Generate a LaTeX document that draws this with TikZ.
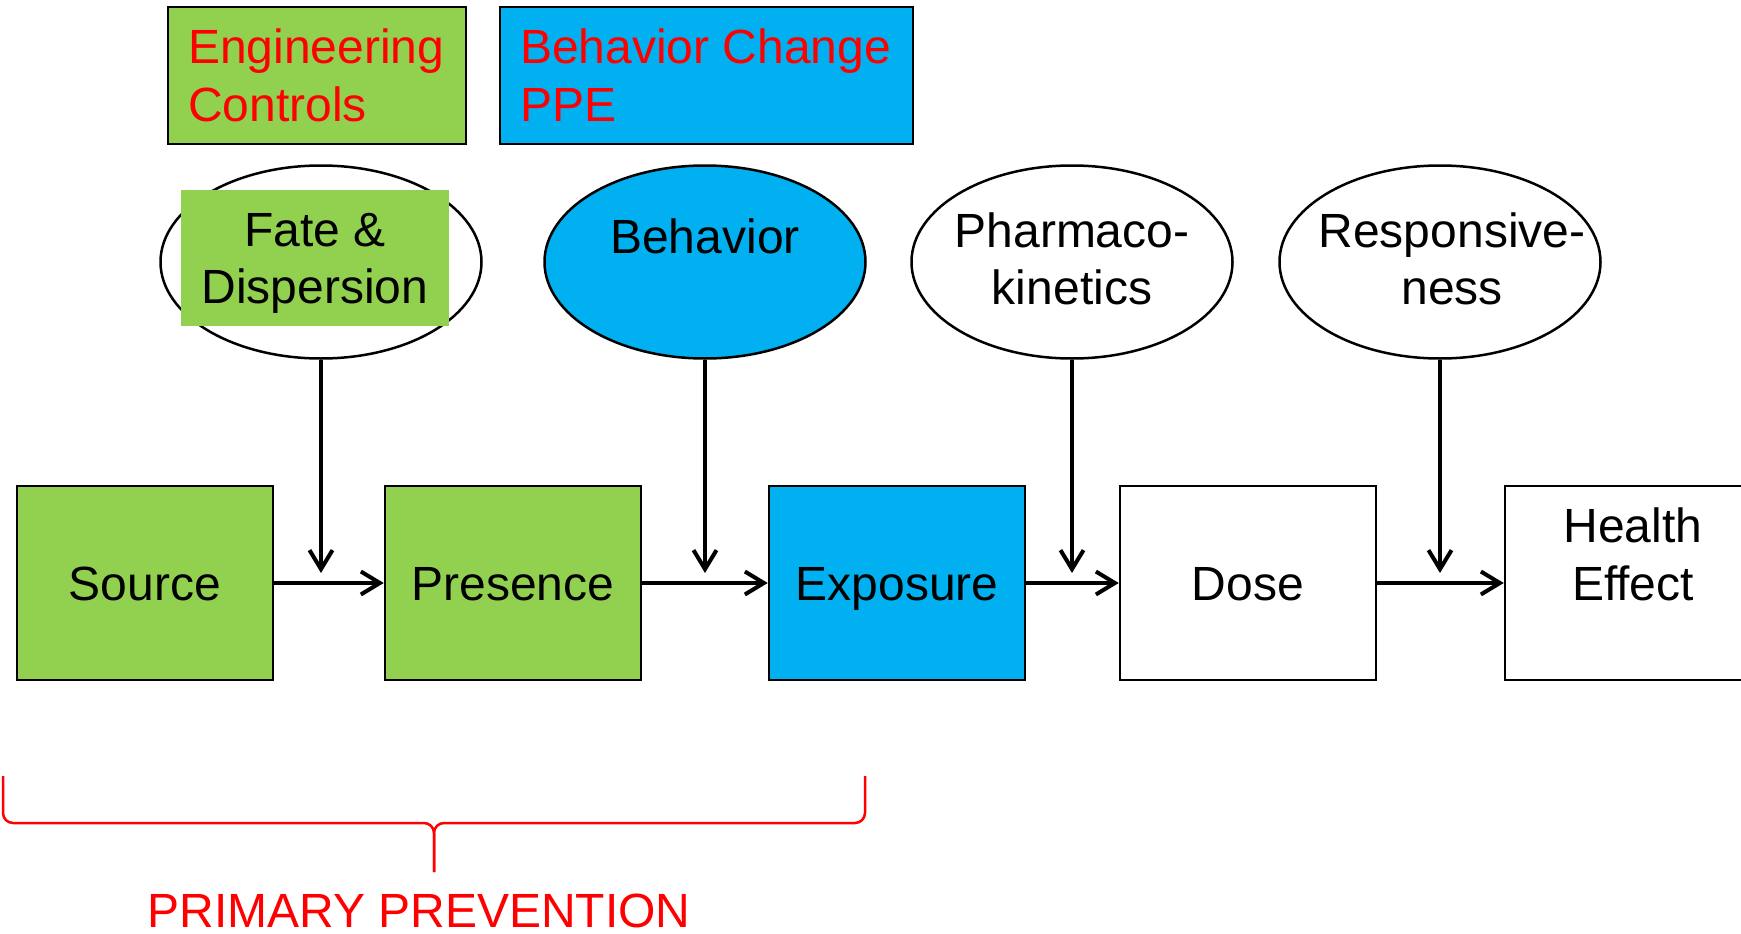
\documentclass[tikz,border=0pt]{standalone}
\usepackage{fontspec}
\setmainfont{Liberation Sans}
\usetikzlibrary{shapes.geometric,arrows.meta}
\definecolor{ctrlgreen}{HTML}{92D050}
\definecolor{ctrlblue}{HTML}{00B0F0}

\begin{document}
\begin{tikzpicture}[x=1pt,y=-1pt,
  stage/.style={draw, line width=2.5pt, minimum width=256pt, minimum height=194pt,
    inner sep=0pt, align=center, font=\fontsize{48}{58}\selectfont},
  oneline/.style={text height=35pt, text depth=0pt},
  oval/.style={draw, ellipse, line width=2.5pt, minimum width=321pt,
    minimum height=193pt, inner sep=0pt},
  ovaltext/.style={align=center, inner sep=0pt, font=\fontsize{48}{57}\selectfont},
  control/.style={draw, line width=2.5pt, minimum height=137pt, inner xsep=20pt,
    inner ysep=0pt, align=flush left, text=red, font=\fontsize{48}{58}\selectfont},
  flow/.style={-{Straight Barb[length=19pt,width=23pt]}, line width=4pt},
  brace/.style={red, line width=2.5pt, rounded corners=10pt}]
  \useasboundingbox (0,0) rectangle (1741,934);
  \clip (0,0) rectangle (1741,934);

  % controls
  \node[control, fill=ctrlgreen, text width=258pt] (eng) at (317,75.5) {Engineering\\Controls};
  \node[control, fill=ctrlblue, text width=373pt] (bchange) at (706.5,75.5) {Behavior Change\\PPE};

  % modifiers
  \node[oval] (fate) at (321,262) {};
  \node[fill=ctrlgreen, minimum width=268pt, minimum height=136pt,
    label={[ovaltext, yshift=-5pt]center:{Fate \&\\Dispersion}}] (fatebox) at (315,258) {};
  \node[oval, fill=ctrlblue, label={[ovaltext, yshift=-3pt]center:{Behavior\\\mbox{}}}] (behavior) at (705,262) {};
  \node[oval, label={[ovaltext, yshift=3pt]center:{Pharmaco-\\kinetics}}] (pharma) at (1072,262) {};
  \node[oval, label={[ovaltext, xshift=12pt, yshift=3pt]center:{Responsive-\\ness}}] (respons) at (1440,262) {};

  % chain
  \node[stage, oneline, fill=ctrlgreen] (source) at (145,583) {Source};
  \node[stage, oneline, fill=ctrlgreen] (presence) at (513,583) {Presence};
  \node[stage, oneline, fill=ctrlblue] (exposure) at (897,583) {Exposure};
  \node[stage, oneline, fill=white] (dose) at (1248,583) {Dose};
  \node[stage, fill=white] (health) at (1633,583) {Health\\Effect\\\mbox{}};

  % arrows along the chain
  \draw[flow] (source) -- (presence);
  \draw[flow] (presence) -- (exposure);
  \draw[flow] (exposure) -- (dose);
  \draw[flow] (dose) -- (health);

  % arrows from the modifiers
  \coordinate (fatein) at (321,573);
  \coordinate (behavin) at (705,573);
  \coordinate (pharmain) at (1072,573);
  \coordinate (resin) at (1440,573);
  \draw[flow] (fate) -- (fatein);
  \draw[flow] (behavior) -- (behavin);
  \draw[flow] (pharma) -- (pharmain);
  \draw[flow] (respons) -- (resin);

  % primary prevention
  \draw[brace] (3,776) -- (3,823) -- (434,823) -- (434,872);
  \draw[brace] (865,776) -- (865,823) -- (434,823) -- (434,872);
  \node[text=red, anchor=base, inner sep=0pt, font=\fontsize{48}{56}\selectfont] (primary) at (419,927) {PRIMARY PREVENTION};
\end{tikzpicture}
\end{document}
